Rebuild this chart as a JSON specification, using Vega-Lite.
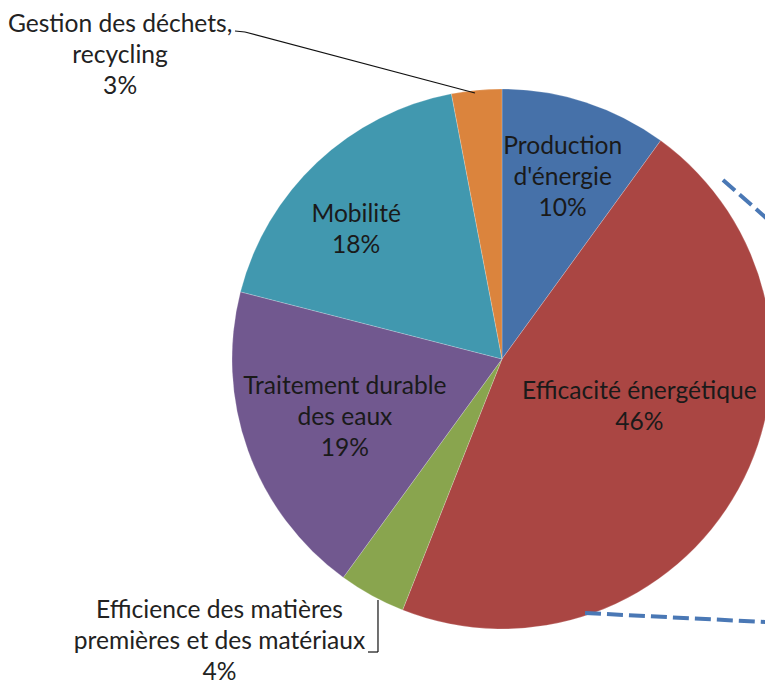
{
  "$schema": "https://vega.github.io/schema/vega-lite/v6.json",
  "width": 526,
  "height": 650,
  "autosize": {"type": "none"},
  "padding": {"left": 239, "top": 34, "right": 0, "bottom": 0},
  "background": "white",
  "config": {"view": {"stroke": null}},
  "datasets": {
    "slices": [
      {"k": "prod", "ord": 1, "share": 10, "label": "Production\nd'énergie\n10%"},
      {"k": "eff", "ord": 2, "share": 46, "label": "Efficacité énergétique\n46%"},
      {"k": "mat", "ord": 3, "share": 4, "label": "Efficience des matières\npremières et des matériaux\n4%"},
      {"k": "eaux", "ord": 4, "share": 19, "label": "Traitement durable\ndes eaux\n19%"},
      {"k": "mob", "ord": 5, "share": 18, "label": "Mobilité\n18%"},
      {"k": "dech", "ord": 6, "share": 3, "label": "Gestion des déchets,\nrecycling\n3%"}
    ],
    "lines": [
      {"kind": "leader", "x": -0.9889, "y": 1.2148, "x2": -0.9519, "y2": 1.2111},
      {"kind": "leader", "x": -0.9519, "y": 1.2111, "x2": -0.1, "y2": 0.9852},
      {"kind": "leader", "x": -0.4963, "y": -1.0852, "x2": -0.4593, "y2": -1.0852},
      {"kind": "leader", "x": -0.4593, "y": -1.0852, "x2": -0.4593, "y2": -0.8926},
      {"kind": "connector", "x": 0.8185, "y": 0.663, "x2": 1.1037, "y2": 0.4119},
      {"kind": "connector", "x": 0.3074, "y": -0.9407, "x2": 1.1037, "y2": -0.9806}
    ]
  },
  "layer": [
    {
      "data": {"name": "slices"},
      "mark": {"type": "arc", "radius": 270, "stroke": "#ffffff", "strokeWidth": 0.6, "strokeOpacity": 0.35},
      "encoding": {
        "theta": {"field": "share", "type": "quantitative", "stack": true},
        "order": {"field": "ord", "type": "quantitative"},
        "color": {
          "field": "k", "type": "nominal", "legend": null,
          "scale": {
            "domain": ["prod", "eff", "mat", "eaux", "mob", "dech"],
            "range": ["#4671A9", "#AA4643", "#89A54E", "#71588F", "#4198AF", "#DB843D"]
          }
        }
      }
    },
    {
      "data": {"name": "lines"},
      "transform": [{"filter": "datum.kind === 'leader'"}],
      "mark": {"type": "rule", "color": "#111111", "strokeWidth": 1.2},
      "encoding": {
        "x": {"field": "x", "type": "quantitative", "scale": {"domain": [-0.97407, 0.97407], "nice": false, "zero": false}, "axis": null},
        "y": {"field": "y", "type": "quantitative", "scale": {"domain": [-1.2037, 1.2037], "nice": false, "zero": false}, "axis": null},
        "x2": {"field": "x2"},
        "y2": {"field": "y2"}
      }
    },
    {
      "data": {"name": "lines"},
      "transform": [{"filter": "datum.kind === 'connector'"}],
      "mark": {"type": "rule", "color": "#4A78B5", "strokeWidth": 4, "strokeDash": [16, 6], "strokeCap": "butt"},
      "encoding": {
        "x": {"field": "x", "type": "quantitative"},
        "y": {"field": "y", "type": "quantitative"},
        "x2": {"field": "x2"},
        "y2": {"field": "y2"}
      }
    },
    {
      "data": {"name": "slices"},
      "mark": {"type": "text", "radius": 190, "dx": 2, "dy": -31, "font": "Lato", "fontSize": 24.6, "lineHeight": 31, "lineBreak": "\n", "align": "center", "baseline": "middle", "color": "#1a1a1a"},
      "encoding": {
        "theta": {"field": "share", "type": "quantitative", "stack": true},
        "order": {"field": "ord", "type": "quantitative"},
        "detail": {"field": "k", "type": "nominal"},
        "text": {"condition": {"test": "datum.k === 'prod'", "field": "label"}, "value": ""}
      }
    },
    {
      "data": {"name": "slices"},
      "mark": {"type": "text", "radius": 143, "dx": 12, "dy": -36, "font": "Lato", "fontSize": 24.6, "lineHeight": 31, "lineBreak": "\n", "align": "center", "baseline": "middle", "color": "#1a1a1a"},
      "encoding": {
        "theta": {"field": "share", "type": "quantitative", "stack": true},
        "order": {"field": "ord", "type": "quantitative"},
        "detail": {"field": "k", "type": "nominal"},
        "text": {"condition": {"test": "datum.k === 'eff'", "field": "label"}, "value": ""}
      }
    },
    {
      "data": {"name": "slices"},
      "mark": {"type": "text", "radius": 385, "dx": -97, "dy": -85, "font": "Lato", "fontSize": 24.6, "lineHeight": 31, "lineBreak": "\n", "align": "center", "baseline": "middle", "color": "#222222"},
      "encoding": {
        "theta": {"field": "share", "type": "quantitative", "stack": true},
        "order": {"field": "ord", "type": "quantitative"},
        "detail": {"field": "k", "type": "nominal"},
        "text": {"condition": {"test": "datum.k === 'mat'", "field": "label"}, "value": ""}
      }
    },
    {
      "data": {"name": "slices"},
      "mark": {"type": "text", "radius": 168, "dx": 1, "dy": -29, "font": "Lato", "fontSize": 24.6, "lineHeight": 31, "lineBreak": "\n", "align": "center", "baseline": "middle", "color": "#1a1a1a"},
      "encoding": {
        "theta": {"field": "share", "type": "quantitative", "stack": true},
        "order": {"field": "ord", "type": "quantitative"},
        "detail": {"field": "k", "type": "nominal"},
        "text": {"condition": {"test": "datum.k === 'eaux'", "field": "label"}, "value": ""}
      }
    },
    {
      "data": {"name": "slices"},
      "mark": {"type": "text", "radius": 194, "dx": -13, "dy": -3, "font": "Lato", "fontSize": 24.6, "lineHeight": 31, "lineBreak": "\n", "align": "center", "baseline": "middle", "color": "#1a1a1a"},
      "encoding": {
        "theta": {"field": "share", "type": "quantitative", "stack": true},
        "order": {"field": "ord", "type": "quantitative"},
        "detail": {"field": "k", "type": "nominal"},
        "text": {"condition": {"test": "datum.k === 'mob'", "field": "label"}, "value": ""}
      }
    },
    {
      "data": {"name": "slices"},
      "mark": {"type": "text", "radius": 339, "dx": -350, "dy": 3, "font": "Lato", "fontSize": 24.6, "lineHeight": 31, "lineBreak": "\n", "align": "center", "baseline": "middle", "color": "#222222"},
      "encoding": {
        "theta": {"field": "share", "type": "quantitative", "stack": true},
        "order": {"field": "ord", "type": "quantitative"},
        "detail": {"field": "k", "type": "nominal"},
        "text": {"condition": {"test": "datum.k === 'dech'", "field": "label"}, "value": ""}
      }
    }
  ]
}
